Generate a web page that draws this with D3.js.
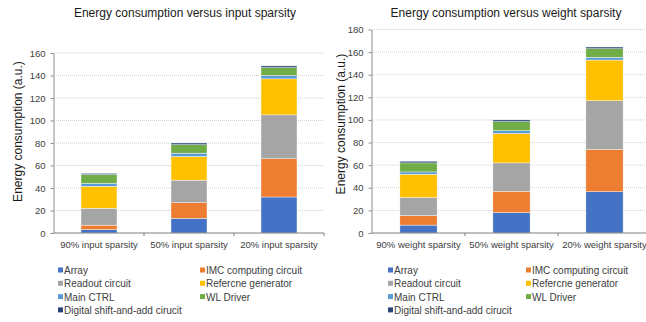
<!DOCTYPE html>
<html>
<head>
<meta charset="utf-8">
<script src="https://cdn.jsdelivr.net/npm/d3@7"></script>
<style>
  html, body { margin: 0; padding: 0; background: #fff; }
  svg { display: block; font-family: "Liberation Sans", Arial, sans-serif; }
</style>
</head>
<body>
<svg id="chart" width="646" height="322"></svg>
<script>
// Energy breakdown per circuit block
const components = ["Array", "IMC computing circuit", "Readout circuit", "Refercne generator",
                    "Main CTRL", "WL Driver", "Digital shift-and-add cirucit"];
const colors = ["#4472C4", "#ED7D31", "#A5A5A5", "#FFC000", "#5B9BD5", "#70AD47", "#264478"];

// Input sparsity sweep
const inputCategories = ["90% input sparsity", "50% input sparsity", "20% input sparsity"];
const inputArray    = [3, 13, 32];
const inputIMC      = [4, 14, 34];
const inputReadout  = [15, 20, 39];
const inputRef      = [19.5, 21, 32];
const inputCtrl     = [2.5, 3, 3];
const inputWL       = [8, 7.5, 7];
const inputDigital  = [1, 1.5, 1.5];
const inputTicks    = [0, 20, 40, 60, 80, 100, 120, 140, 160];

// Weight sparsity sweep
const weightCategories = ["90% weight sparsity", "50% weight sparsity", "20% weight sparsity"];
const weightArray   = [7, 18, 36.5];
const weightIMC     = [8.5, 19, 37.5];
const weightReadout = [16, 25, 43];
const weightRef     = [20.5, 26, 36];
const weightCtrl    = [2, 2.5, 2.5];
const weightWL      = [8, 8, 7.5];
const weightDigital = [1.5, 1.5, 1.5];
const weightTicks   = [0, 20, 40, 60, 80, 100, 120, 140, 160, 180];

const svg = d3.select("#chart");

function drawPanel(opts) {
  const { categories, series, ticks, title, x0, x1, yTop, yBottom, titleX, labelX, labelY, legend } = opts;
  const g = svg.append("g");

  const rows = categories.map((c, i) => {
    const r = { cat: c };
    components.forEach((k, j) => r[k] = series[j][i]);
    return r;
  });
  const stacked = d3.stack().keys(components)(rows);

  const x = d3.scaleBand().domain(categories).range([x0, x1]).paddingInner(0.6).paddingOuter(0.3);
  const y = d3.scaleLinear().domain([0, d3.max(ticks)]).range([yBottom, yTop]);

  // gridlines
  g.append("g").selectAll("line").data(ticks.filter(t => t > 0)).join("line")
    .attr("x1", x0).attr("x2", x1)
    .attr("y1", d => y(d)).attr("y2", d => y(d))
    .attr("stroke", "#d0d0d0").attr("stroke-width", 1).attr("stroke-dasharray", "1,1");

  // value axis
  const yAxis = d3.axisLeft(y).tickValues(ticks).tickSize(3).tickSizeOuter(0).tickPadding(5);
  const ya = g.append("g").attr("transform", `translate(${x0 - 0.5},0)`).call(yAxis);
  ya.select(".domain").attr("stroke", "#8c8c8c");
  ya.selectAll(".tick line").attr("stroke", "#8c8c8c");
  ya.selectAll("text").attr("font-size", 9.5).attr("fill", "#404040")
    .attr("font-family", "Liberation Sans, Arial, sans-serif");

  // bars
  g.append("g").selectAll("g").data(stacked).join("g")
    .attr("fill", (d, i) => colors[i])
    .selectAll("rect").data(d => d).join("rect")
    .attr("x", d => x(d.data.cat))
    .attr("width", x.bandwidth())
    .attr("y", d => y(d[1]))
    .attr("height", d => y(d[0]) - y(d[1]))
    .attr("stroke", "#ffffff").attr("stroke-width", 0.4);

  // category axis
  const step = (x1 - x0) / categories.length;
  const xa = g.append("g").attr("transform", `translate(0,${yBottom})`);
  xa.append("line").attr("x1", x0 - 0.5).attr("x2", x1).attr("stroke", "#7f7f7f").attr("stroke-width", 1);
  xa.selectAll("line.tk").data(d3.range(1, categories.length + 1)).join("line")
    .attr("class", "tk")
    .attr("x1", i => x0 + i * step).attr("x2", i => x0 + i * step)
    .attr("y1", 0).attr("y2", 3).attr("stroke", "#7f7f7f");
  xa.selectAll("text").data(categories).join("text")
    .attr("x", d => x(d) + x.bandwidth() / 2).attr("y", 15)
    .attr("text-anchor", "middle").attr("font-size", 9.5).attr("fill", "#404040")
    .text(d => d);

  // title
  g.append("text").attr("x", titleX).attr("y", 17).attr("text-anchor", "middle")
    .attr("font-size", 12).attr("fill", "#1a1a1a").text(title);

  // y label
  g.append("text").attr("transform", `translate(${labelX},${labelY}) rotate(-90)`)
    .attr("text-anchor", "middle").attr("font-size", 12).attr("fill", "#1a1a1a")
    .text("Energy consumption (a.u.)");

  // legend
  const lg = g.append("g");
  components.forEach((c, i) => {
    const col = i % 2, row = Math.floor(i / 2);
    const lx = legend.x + col * legend.colGap;
    const ly = legend.y + row * 13.3;
    lg.append("rect").attr("x", lx).attr("y", ly - 6.5).attr("width", 5).attr("height", 5).attr("fill", colors[i]);
    lg.append("text").attr("x", lx + 6).attr("y", ly).attr("font-size", 10).attr("fill", "#404040").text(c);
  });
}

drawPanel({
  categories: inputCategories,
  series: [inputArray, inputIMC, inputReadout, inputRef, inputCtrl, inputWL, inputDigital],
  ticks: inputTicks,
  title: "Energy consumption versus input sparsity",
  x0: 54, x1: 324, yTop: 53, yBottom: 233,
  titleX: 185, labelX: 22, labelY: 131.5,
  legend: { x: 58, y: 274, colGap: 142 }
});

drawPanel({
  categories: weightCategories,
  series: [weightArray, weightIMC, weightReadout, weightRef, weightCtrl, weightWL, weightDigital],
  ticks: weightTicks,
  title: "Energy consumption versus weight sparsity",
  x0: 372, x1: 651, yTop: 29.5, yBottom: 233,
  titleX: 506, labelX: 345, labelY: 124,
  legend: { x: 388, y: 274, colGap: 138 }
});
</script>
</body>
</html>
